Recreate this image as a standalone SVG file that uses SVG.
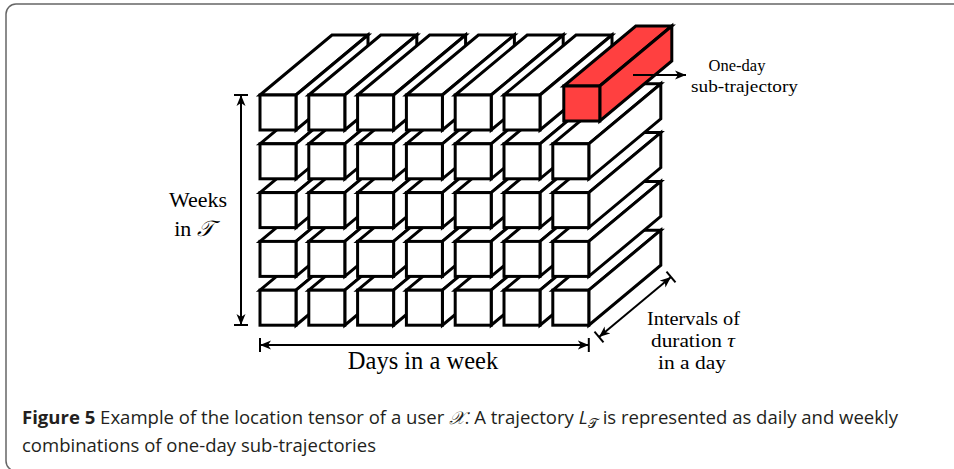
<svg xmlns="http://www.w3.org/2000/svg" xmlns:xlink="http://www.w3.org/1999/xlink" width="954" height="469" viewBox="0 0 954 469">
<style>
.lbl{font-family:"Liberation Serif","DejaVu Serif",serif;fill:#000}
.cap{font-family:"Open Sans","Noto Sans","Liberation Sans",sans-serif;fill:#231f20;font-size:18px}
.dim{stroke:#000;stroke-width:2;fill:none}
.tick{stroke:#000;stroke-width:2}
</style>
<defs>
<g id="box" stroke="#000" stroke-width="3" stroke-linejoin="miter">
<path d="M0,0 L72,-60 L108,-60 L36,0 Z"/>
<path d="M36,0 L108,-60 L108,-25 L36,35 Z"/>
<rect x="0" y="0" width="36" height="35"/>
</g>
<marker id="ah" viewBox="0 -5 12 10" refX="11" refY="0" markerWidth="12" markerHeight="10" markerUnits="userSpaceOnUse" orient="auto-start-reverse">
<path d="M0,-4.5 L11,0 L0,4.5 L3,0 Z" fill="#000"/>
</marker>
</defs>
<rect x="6" y="4" width="1000" height="467" rx="10" ry="10" fill="none" stroke="#666" stroke-width="1.5"/>
<g id="tensor" fill="#fff">
<g id="row5">
<use xlink:href="#box" x="260" y="290.2"/><use xlink:href="#box" x="308.8" y="290.2"/><use xlink:href="#box" x="357.6" y="290.2"/><use xlink:href="#box" x="406.4" y="290.2"/><use xlink:href="#box" x="455.2" y="290.2"/><use xlink:href="#box" x="504" y="290.2"/><use xlink:href="#box" x="552.8" y="290.2"/>
</g>
<g id="row4">
<use xlink:href="#box" x="260" y="241.4"/><use xlink:href="#box" x="308.8" y="241.4"/><use xlink:href="#box" x="357.6" y="241.4"/><use xlink:href="#box" x="406.4" y="241.4"/><use xlink:href="#box" x="455.2" y="241.4"/><use xlink:href="#box" x="504" y="241.4"/><use xlink:href="#box" x="552.8" y="241.4"/>
</g>
<g id="row3">
<use xlink:href="#box" x="260" y="192.6"/><use xlink:href="#box" x="308.8" y="192.6"/><use xlink:href="#box" x="357.6" y="192.6"/><use xlink:href="#box" x="406.4" y="192.6"/><use xlink:href="#box" x="455.2" y="192.6"/><use xlink:href="#box" x="504" y="192.6"/><use xlink:href="#box" x="552.8" y="192.6"/>
</g>
<g id="row2">
<use xlink:href="#box" x="260" y="143.8"/><use xlink:href="#box" x="308.8" y="143.8"/><use xlink:href="#box" x="357.6" y="143.8"/><use xlink:href="#box" x="406.4" y="143.8"/><use xlink:href="#box" x="455.2" y="143.8"/><use xlink:href="#box" x="504" y="143.8"/><use xlink:href="#box" x="552.8" y="143.8"/>
</g>
<g id="row1">
<use xlink:href="#box" x="260" y="95"/><use xlink:href="#box" x="308.8" y="95"/><use xlink:href="#box" x="357.6" y="95"/><use xlink:href="#box" x="406.4" y="95"/><use xlink:href="#box" x="455.2" y="95"/><use xlink:href="#box" x="504" y="95"/>
</g>
<g id="subtrajectory">
<use xlink:href="#box" x="563.8" y="86" fill="#ff4040"/>
</g>
</g>
<g id="connectors">
<line class="dim" x1="633" y1="75" x2="686" y2="75" marker-end="url(#ah)"/>
<line class="dim" x1="241" y1="95" x2="241" y2="325" marker-start="url(#ah)" marker-end="url(#ah)"/>
<line class="tick" x1="234" y1="95" x2="248" y2="95"/>
<line class="tick" x1="234" y1="325" x2="248" y2="325"/>
<line class="dim" x1="260" y1="345" x2="588.8" y2="345" marker-start="url(#ah)" marker-end="url(#ah)"/>
<line class="tick" x1="260" y1="338" x2="260" y2="352"/>
<line class="tick" x1="588.8" y1="338" x2="588.8" y2="352"/>
<line class="dim" x1="599" y1="337" x2="671" y2="277" marker-start="url(#ah)" marker-end="url(#ah)"/>
<line class="tick" x1="594.5" y1="331.6" x2="603.5" y2="342.4"/>
<line class="tick" x1="666.5" y1="271.6" x2="675.5" y2="282.4"/>
</g>
<g id="labels">
<text class="lbl" x="737" y="71" font-size="16.5" text-anchor="middle">One-day</text>
<text class="lbl" x="691" y="92" font-size="16.5" textLength="107" lengthAdjust="spacingAndGlyphs">sub-trajectory</text>
<text class="lbl" x="198" y="207" font-size="22" text-anchor="middle">Weeks</text>
<text class="lbl" x="194" y="236" font-size="22" text-anchor="middle">in <tspan font-style="italic">𝒯</tspan></text>
<text class="lbl" x="423" y="369" font-size="24.5" text-anchor="middle">Days in a week</text>
<text class="lbl" x="647" y="325" font-size="19" textLength="93" lengthAdjust="spacingAndGlyphs">Intervals of</text>
<text class="lbl" x="651" y="347" font-size="19" textLength="84" lengthAdjust="spacingAndGlyphs">duration <tspan font-style="italic">τ</tspan></text>
<text class="lbl" x="658" y="369" font-size="19" textLength="68" lengthAdjust="spacingAndGlyphs">in a day</text>
</g>
<g id="caption">
<text class="cap" x="22" y="424" textLength="876" lengthAdjust="spacingAndGlyphs"><tspan font-weight="bold">Figure 5</tspan>  Example of the location tensor of a user <tspan font-style="italic" font-family="'DejaVu Serif',serif">𝒳</tspan>. A trajectory <tspan font-style="italic">L</tspan><tspan font-size="13" dy="4" font-family="'DejaVu Serif',serif">𝒯</tspan><tspan dy="-4"> is represented as daily and weekly</tspan></text>
<text class="cap" x="22" y="452" textLength="354" lengthAdjust="spacingAndGlyphs">combinations of one-day sub-trajectories</text>
</g>
</svg>
